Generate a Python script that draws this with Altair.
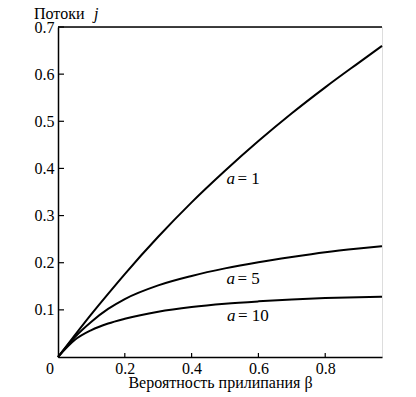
import altair as alt
import pandas as pd

# Data
beta = [0, 0.05, 0.1, 0.15, 0.2, 0.3, 0.4, 0.5, 0.6, 0.7, 0.8, 0.9, 0.97]
j_a1 = [0, 0.046, 0.091, 0.134, 0.176, 0.255, 0.328, 0.395, 0.458, 0.517, 0.572, 0.624, 0.660]
j_a5 = [0, 0.042, 0.075, 0.102, 0.123, 0.152, 0.172, 0.188, 0.201, 0.212, 0.222, 0.230, 0.235]
j_a10 = [0, 0.036, 0.057, 0.071, 0.081, 0.096, 0.106, 0.113, 0.118, 0.122, 0.125, 0.127, 0.128]
series = ["a = 1", "a = 5", "a = 10"]

x_ticks = [0.2, 0.4, 0.6, 0.8]
y_ticks = [0.1, 0.2, 0.3, 0.4, 0.5, 0.6, 0.7]

label_a = ["1", "5", "10"]
label_x = [0.5045, 0.5045, 0.506]
label_y = [0.368, 0.1556, 0.0774]

X_MAX = 0.97
Y_MAX = 0.7
FONT = "Liberation Serif"

rows = []
for name, vals in zip(series, [j_a1, j_a5, j_a10]):
    for b, v in zip(beta, vals):
        rows.append({"beta": b, "j": v, "series": name})
df = pd.DataFrame(rows)

xs = alt.Scale(domain=[0, X_MAX], nice=False, zero=True)
ys = alt.Scale(domain=[0, Y_MAX], nice=False)

x_axis = alt.Axis(values=x_ticks, format=".1f", tickSize=0, labelPadding=3,
                  labelFontSize=16, labelFont=FONT, labelColor="black",
                  title="Вероятность прилипания β", titleFont=FONT, titleFontSize=16,
                  titleFontWeight="normal", titleColor="black",
                  titleBaseline="alphabetic", titleY=30.5,
                  domainColor="black", domainWidth=1.5, grid=False)
y_axis = alt.Axis(values=y_ticks, format=".1f", tickSize=0, labelPadding=4,
                  labelFontSize=16, labelFont=FONT, labelColor="black",
                  title=None, domainColor="black", domainWidth=1.5, grid=False)

lines = alt.Chart(df).mark_line(color="black", strokeWidth=2, interpolate="monotone").encode(
    x=alt.X("beta:Q", scale=xs, axis=x_axis),
    y=alt.Y("j:Q", scale=ys, axis=y_axis),
    detail="series:N",
)

top_df = pd.DataFrame({"x0": [0], "x1": [X_MAX], "y": [Y_MAX]})
top_rule = alt.Chart(top_df).mark_rule(color="black", strokeWidth=1.5).encode(
    x=alt.X("x0:Q", scale=xs), x2="x1:Q", y=alt.Y("y:Q", scale=ys)
)

xt_df = pd.DataFrame({"x": x_ticks, "y0": [0] * len(x_ticks), "y1": [0.0085] * len(x_ticks)})
x_tick_marks = alt.Chart(xt_df).mark_rule(color="black", strokeWidth=1.2).encode(
    x=alt.X("x:Q", scale=xs), y=alt.Y("y0:Q", scale=ys), y2="y1:Q"
)
yt_df = pd.DataFrame({"y": y_ticks, "x0": [0] * len(y_ticks), "x1": [0.018] * len(y_ticks)})
y_tick_marks = alt.Chart(yt_df).mark_rule(color="black", strokeWidth=1.2).encode(
    y=alt.Y("y:Q", scale=ys), x=alt.X("x0:Q", scale=xs), x2="x1:Q"
)

zero_df = pd.DataFrame({"x": [0], "y": [0], "t": ["0"]})
zero_lbl = alt.Chart(zero_df).mark_text(font=FONT, fontSize=16, color="black", align="center",
                                        baseline="top", dx=-8, dy=4).encode(
    x=alt.X("x:Q", scale=xs), y=alt.Y("y:Q", scale=ys), text="t:N"
)

lab_df = pd.DataFrame({"x": label_x, "y": label_y, "a": ["a"] * 3, "rest": ["= " + s for s in label_a]})
lab_a = alt.Chart(lab_df).mark_text(font=FONT, fontSize=17, fontStyle="italic", color="black",
                                    align="left", baseline="alphabetic").encode(
    x=alt.X("x:Q", scale=xs), y=alt.Y("y:Q", scale=ys), text="a:N"
)
lab_rest = alt.Chart(lab_df).mark_text(font=FONT, fontSize=17, color="black",
                                       align="left", baseline="alphabetic", dx=11).encode(
    x=alt.X("x:Q", scale=xs), y=alt.Y("y:Q", scale=ys), text="rest:N"
)

ytitle1 = alt.Chart(zero_df).mark_text(font=FONT, fontSize=16, color="black", align="left",
                                       baseline="alphabetic", text="Потоки").encode(
    x=alt.value(-24), y=alt.value(-8)
)
ytitle2 = alt.Chart(zero_df).mark_text(font=FONT, fontSize=16, fontStyle="italic", color="black",
                                       align="left", baseline="alphabetic", text="j").encode(
    x=alt.value(36), y=alt.value(-8)
)

chart = alt.layer(
    top_rule, x_tick_marks, y_tick_marks, lines, zero_lbl, lab_a, lab_rest, ytitle1, ytitle2
).properties(
    width=324, height=330,
    autosize=alt.AutoSizeParams(type="none"),
    padding={"left": 50, "top": 19, "right": 20, "bottom": 35},
).configure_view(stroke=None).configure(background="white")

chart.save("out.html", embed_options={"renderer": "svg", "actions": False})
